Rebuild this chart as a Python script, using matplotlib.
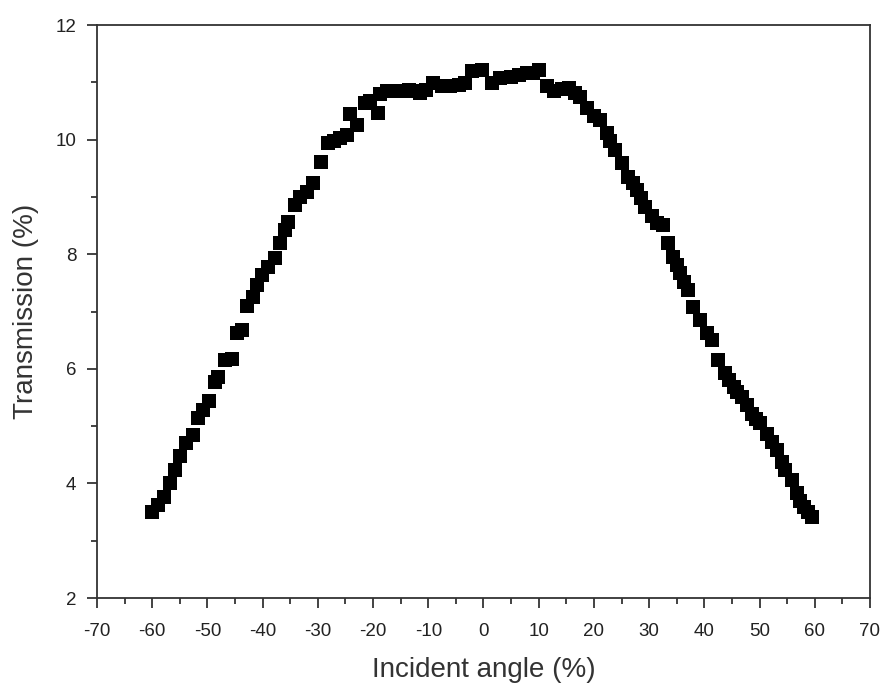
import matplotlib
matplotlib.use("Agg")
import matplotlib.pyplot as plt
from matplotlib.ticker import MultipleLocator

plt.rcParams['font.family'] = ['Liberation Sans', 'DejaVu Sans']
plt.rcParams['axes.unicode_minus'] = False

angle = [-60.0, -59.0, -57.8, -56.7, -55.9, -54.9, -53.8, -52.6, -51.7, -50.8,
         -49.7, -48.6, -48.0, -46.8, -45.6, -44.7, -43.8, -42.9, -41.8, -41.1,
         -40.2, -39.0, -37.8, -36.8, -36.0, -35.4, -34.1, -33.2, -32.0, -30.8,
         -29.5, -28.1, -27.0, -26.0, -24.8, -24.2, -23.0, -21.5, -20.5, -19.1,
         -18.7, -17.5, -16.0, -15.1, -13.5, -12.8, -11.5, -10.5, -9.1, -7.5,
         -6.0, -4.5, -3.3, -2.0, -0.3, 1.5, 3.0, 5.0, 6.5, 7.8,
         9.0, 10.1, 11.5, 12.7, 14.2, 15.4, 16.5, 17.5, 18.7, 20.0,
         21.1, 22.3, 23.0, 23.8, 25.0, 26.2, 27.0, 27.8, 28.5, 29.3,
         30.5, 31.5, 32.6, 33.5, 34.4, 35.0, 35.6, 36.3, 37.1, 38.0,
         39.2, 40.4, 41.3, 42.5, 43.7, 44.5, 45.3, 46.0, 46.8, 47.7,
         48.6, 49.4, 50.1, 51.3, 52.2, 53.1, 54.0, 54.6, 55.9, 56.8,
         57.4, 58.0, 58.8, 59.5]
transmission = [3.51, 3.62, 3.77, 4.00, 4.23, 4.47, 4.70, 4.85, 5.14, 5.28,
                5.43, 5.77, 5.86, 6.15, 6.18, 6.62, 6.68, 7.10, 7.26, 7.46,
                7.64, 7.78, 7.93, 8.20, 8.42, 8.57, 8.86, 9.00, 9.09, 9.24,
                9.61, 9.94, 9.97, 10.02, 10.08, 10.45, 10.25, 10.64, 10.68, 10.46,
                10.79, 10.84, 10.84, 10.85, 10.86, 10.84, 10.81, 10.86, 10.98, 10.93,
                10.93, 10.96, 10.98, 11.19, 11.21, 10.98, 11.07, 11.10, 11.12, 11.16,
                11.17, 11.21, 10.93, 10.84, 10.88, 10.90, 10.82, 10.75, 10.55, 10.42,
                10.34, 10.11, 9.98, 9.82, 9.59, 9.35, 9.24, 9.12, 8.98, 8.83,
                8.66, 8.55, 8.51, 8.19, 7.96, 7.82, 7.67, 7.52, 7.38, 7.08,
                6.85, 6.62, 6.50, 6.15, 5.92, 5.80, 5.69, 5.60, 5.51, 5.36,
                5.22, 5.12, 5.05, 4.87, 4.72, 4.58, 4.38, 4.23, 4.06, 3.83,
                3.70, 3.59, 3.50, 3.42]

xlabel = "Incident angle (%)"
ylabel = "Transmission (%)"

fig = plt.figure(figsize=(8.86, 6.87), dpi=100)
ax = fig.add_axes([0.1095, 0.1295, 0.8724, 0.8341])

ax.plot(angle, transmission, linestyle='none', marker='s', markersize=9.8,
        color='black', markeredgewidth=0)

ax.set_xlim(-70, 70)
ax.set_ylim(2, 12)
ax.xaxis.set_major_locator(MultipleLocator(10))
ax.xaxis.set_minor_locator(MultipleLocator(5))
ax.yaxis.set_major_locator(MultipleLocator(2))
ax.yaxis.set_minor_locator(MultipleLocator(1))

ax.tick_params(which='both', direction='out', top=False, right=False,
               color='#222222', width=1.2)
ax.tick_params(which='major', length=7, labelsize=13.5, labelcolor='#222222')
ax.tick_params(axis='x', which='major', pad=11)
ax.tick_params(axis='y', which='major', pad=8)
ax.tick_params(which='minor', length=4)
for s in ax.spines.values():
    s.set_linewidth(1.3)
    s.set_color('#333333')

ax.set_xlabel(xlabel, fontsize=20, color='#333333', labelpad=12)
ax.set_ylabel(ylabel, fontsize=20, color='#333333', labelpad=12)

fig.savefig("out.png", dpi=100)
